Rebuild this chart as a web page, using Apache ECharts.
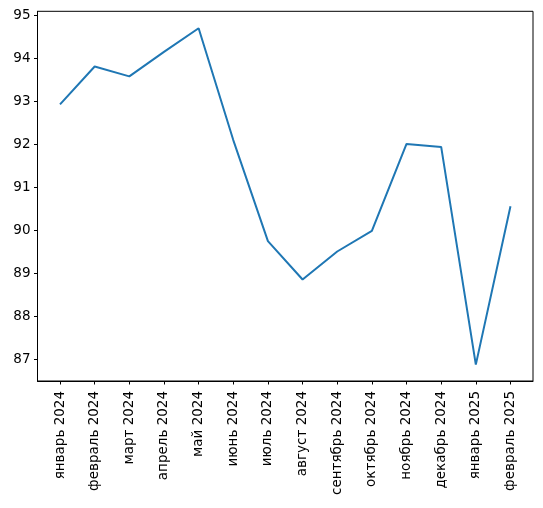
<!DOCTYPE html>
<html>
<head>
<meta charset="utf-8">
<script src="https://cdn.jsdelivr.net/npm/echarts@6.0.0/dist/echarts.min.js"></script>
<style>
	html,body{margin:0;padding:0;background:#fff;}
	#main{width:543px;height:508px;}
</style>
</head>
<body>
<div id="main"></div>
<script type="text/javascript">
// месяцы
var months = ['январь 2024','февраль 2024','март 2024','апрель 2024','май 2024','июнь 2024','июль 2024',
	'август 2024','сентябрь 2024','октябрь 2024','ноябрь 2024','декабрь 2024','январь 2025','февраль 2025'];
var values = [92.93, 93.81, 93.58, 94.15, 94.70, 92.10, 89.75, 88.86, 89.51, 89.99, 92.01, 91.94, 86.88, 90.56];
var yTicks = [87, 88, 89, 90, 91, 92, 93, 94, 95];

var xTicks = [];
var points = [];
for (var i = 0; i < months.length; i++) {
	xTicks.push(i);
	points.push([i, values[i]]);
}

var myChart = echarts.init(document.getElementById('main'));
var font = 'DejaVu Sans';

var option = {
	animation: false,
	grid: {
		left: 37.5,
		right: 10,
		top: 11.3,
		bottom: 127,
		show: true,
		borderColor: '#000',
		borderWidth: 1
	},
	xAxis: {
		type: 'value',
		min: -0.65,
		max: 13.65,
		splitLine: {show: false},
		axisLine: {show: true, onZero: false, lineStyle: {color: '#000', width: 1}},
		axisTick: {show: true, customValues: xTicks, length: 3.5, lineStyle: {color: '#000'}},
		axisLabel: {
			customValues: xTicks,
			rotate: 90,
			margin: 10,
			color: '#000',
			fontFamily: font,
			fontSize: 13.5,
			formatter: function (v) { return months[Math.round(v)]; }
		}
	},
	yAxis: {
		type: 'value',
		min: 86.50,
		max: 95.093,
		splitLine: {show: false},
		axisLine: {show: true, onZero: false, lineStyle: {color: '#000', width: 1}},
		axisTick: {show: true, customValues: yTicks, length: 3.5, lineStyle: {color: '#000'}},
		axisLabel: {
			customValues: yTicks,
			margin: 7,
			color: '#000',
			fontFamily: font,
			fontSize: 13.5
		}
	},
	series: [
		{
			type: 'line',
			data: points,
			symbol: 'none',
			lineStyle: {color: '#1f77b4', width: 2}
		}
	]
};
myChart.setOption(option);
</script>
</body>
</html>
